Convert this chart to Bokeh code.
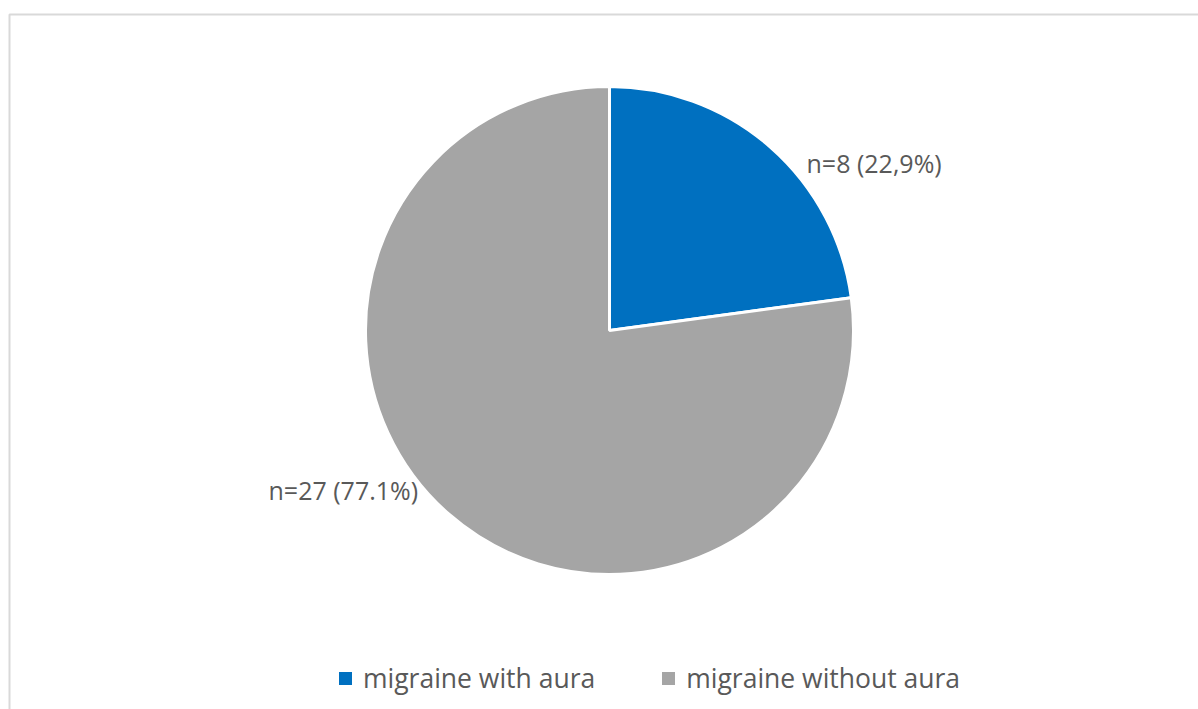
from math import pi

import numpy as np
from bokeh.plotting import figure
from bokeh.models import ColumnDataSource, Legend, LegendItem, Range1d
from bokeh.core.properties import value
from bokeh.embed import file_html
from bokeh.resources import INLINE

# Data
categories = ["migraine with aura", "migraine without aura"]
counts = [8, 27]
slice_labels = ["n=8 (22,9%)", "n=27 (77.1%)"]
colors = ["#0070C0", "#A5A5A5"]

W, H = 1198, 709
FONT = "Open Sans"
TEXT_COLOR = "#595959"

# Pie geometry, in pixel-sized data units (y measured upward)
cx, cy, r = 609, H - 330, 244

fractions = np.array(counts, dtype=float) / sum(counts)
ends = np.cumsum(fractions) * 2 * pi
starts = ends - fractions * 2 * pi
# start at 12 o'clock, run clockwise
start_angle = pi / 2 - starts
end_angle = pi / 2 - ends

src = ColumnDataSource(dict(
    category=categories,
    count=counts,
    start=start_angle,
    end=end_angle,
    color=colors,
))

p = figure(width=W, height=H, output_backend="svg", toolbar_location=None,
           x_range=Range1d(0, W), y_range=Range1d(0, H),
           min_border=0, min_border_left=0, min_border_right=0,
           min_border_top=0, min_border_bottom=0)
p.axis.visible = False
p.grid.visible = False
p.outline_line_color = None
p.background_fill_color = "white"
p.border_fill_color = "white"

# Chart-area frame
p.quad(left=[9], right=[W + 20], top=[H - 14], bottom=[-20],
       fill_color=None, line_color="#D9D9D9", line_width=2)

wedges = p.wedge(x=cx, y=cy, radius=r, start_angle="start", end_angle="end",
                 direction="clock", fill_color="color", line_color="white",
                 line_width=3, source=src)

# Data labels placed beside each slice
lab_src = ColumnDataSource(dict(
    x=[806, 268],
    y=[H - 162, H - 489],
    text=slice_labels,
))
p.text(x="x", y="y", text="text", source=lab_src, text_font=value(FONT),
       text_font_size="25px", text_color=TEXT_COLOR,
       text_align="left", text_baseline="middle")

legend = Legend(items=[LegendItem(label=c, renderers=[wedges], index=i)
                       for i, c in enumerate(categories)],
                orientation="horizontal", location=(335, 13),
                label_text_font=FONT, label_text_font_size="26.5px",
                label_text_color=TEXT_COLOR, glyph_width=20, glyph_height=20,
                spacing=63, padding=0, margin=0, label_standoff=8,
                border_line_color=None, background_fill_alpha=0)
p.add_layout(legend, "center")

open("out.html", "w").write(file_html(p, INLINE))
